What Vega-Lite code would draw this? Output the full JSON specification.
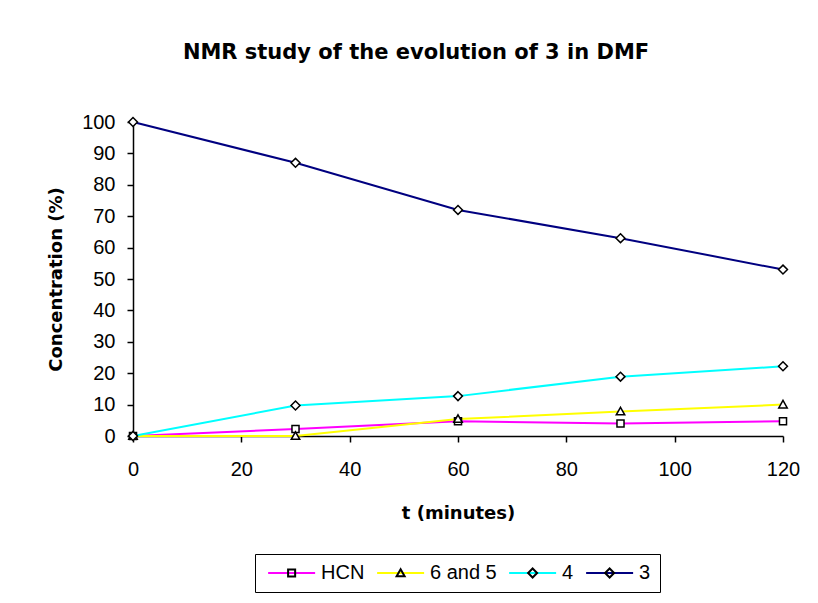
{
  "$schema": "https://vega.github.io/schema/vega-lite/v6.json",
  "width": 650,
  "height": 314,
  "autosize": {"type": "none"},
  "padding": {"left": 133, "top": 122, "right": 35, "bottom": 167},
  "background": "white",
  "config": {"view": {"stroke": null}},
  "title": {
    "text": "NMR study of the evolution of 3 in DMF",
    "font": "DejaVu Sans",
    "fontSize": 21,
    "fontWeight": "bold",
    "color": "black",
    "anchor": "middle",
    "frame": "group",
    "dx": -42,
    "offset": 49
  },
  "data": {
    "values": [
      {"series": "HCN", "t": 0, "value": 0},
      {"series": "HCN", "t": 30, "value": 2.2},
      {"series": "HCN", "t": 60, "value": 4.7},
      {"series": "HCN", "t": 90, "value": 4},
      {"series": "HCN", "t": 120, "value": 4.7},
      {"series": "6 and 5", "t": 0, "value": 0},
      {"series": "6 and 5", "t": 30, "value": 0},
      {"series": "6 and 5", "t": 60, "value": 5.4},
      {"series": "6 and 5", "t": 90, "value": 7.8},
      {"series": "6 and 5", "t": 120, "value": 10},
      {"series": "4", "t": 0, "value": 0},
      {"series": "4", "t": 30, "value": 9.7},
      {"series": "4", "t": 60, "value": 12.7},
      {"series": "4", "t": 90, "value": 18.9},
      {"series": "4", "t": 120, "value": 22.2},
      {"series": "3", "t": 0, "value": 100},
      {"series": "3", "t": 30, "value": 87},
      {"series": "3", "t": 60, "value": 72},
      {"series": "3", "t": 90, "value": 63},
      {"series": "3", "t": 120, "value": 53}
    ]
  },
  "encoding": {
    "x": {
      "field": "t",
      "type": "quantitative",
      "scale": {"domain": [0, 120], "nice": false, "zero": false},
      "axis": {
        "title": "t (minutes)",
        "values": [0, 20, 40, 60, 80, 100, 120],
        "grid": false,
        "domainColor": "black",
        "domainWidth": 1.5,
        "tickColor": "black",
        "tickWidth": 1.5,
        "tickSize": 6,
        "labelFont": "Liberation Sans",
        "labelFontSize": 20,
        "labelColor": "black",
        "labelPadding": 17,
        "labelFlush": false,
        "labelOverlap": false,
        "titleFont": "DejaVu Sans",
        "titleFontSize": 18,
        "titleFontWeight": "bold",
        "titleColor": "black",
        "titlePadding": 25
      }
    },
    "y": {
      "field": "value",
      "type": "quantitative",
      "scale": {"domain": [0, 100], "nice": false},
      "axis": {
        "title": "Concentration (%)",
        "values": [0, 10, 20, 30, 40, 50, 60, 70, 80, 90, 100],
        "grid": false,
        "domainColor": "black",
        "domainWidth": 1.5,
        "tickColor": "black",
        "tickWidth": 1.5,
        "tickSize": 6,
        "labelFont": "Liberation Sans",
        "labelFontSize": 20,
        "labelColor": "black",
        "labelPadding": 12,
        "labelFlush": false,
        "labelOverlap": false,
        "titleFont": "DejaVu Sans",
        "titleFontSize": 18,
        "titleFontWeight": "bold",
        "titleColor": "black",
        "titlePadding": 16
      }
    }
  },
  "resolve": {"scale": {"shape": "independent"}, "legend": {"shape": "independent"}},
  "layer": [
    {
      "mark": {"type": "line", "strokeWidth": 2},
      "encoding": {
        "color": {
          "field": "series",
          "type": "nominal",
          "scale": {
            "domain": ["HCN", "6 and 5", "4", "3"],
            "range": ["#FF00FF", "#FFFF00", "#00FFFF", "#000080"]
          },
          "legend": {
            "title": null,
            "orient": "none",
            "legendX": 122,
            "legendY": 432,
            "direction": "horizontal",
            "symbolType": "M-1,0H7",
            "symbolSize": 138,
            "symbolStrokeWidth": 2,
            "labelFont": "Liberation Sans",
            "labelFontSize": 20,
            "labelColor": "black",
            "labelOffset": 37,
            "labelLimit": 0,
            "columnPadding": 8,
            "padding": 9,
            "strokeColor": "black",
            "fillColor": "white"
          }
        }
      }
    },
    {
      "mark": {
        "type": "point",
        "filled": false,
        "stroke": "black",
        "fill": "white",
        "fillOpacity": 1,
        "strokeWidth": 1.5,
        "size": 2209,
        "opacity": 1
      },
      "encoding": {
        "shape": {
          "field": "series",
          "type": "nominal",
          "scale": {
            "domain": ["HCN", "6 and 5", "4", "3"],
            "range": [
              "M-0.15,-0.15H0.15V0.15H-0.15Z",
              "M0,-0.18L0.18,0.14H-0.18Z",
              "M0,-0.19L0.19,0L0,0.19L-0.19,0Z",
              "M0,-0.19L0.19,0L0,0.19L-0.19,0Z"
            ]
          },
          "legend": null
        }
      }
    },
    {
      "transform": [
        {"filter": "datum.t < 0"},
        {"calculate": "datum.series + '_m'", "as": "marker"}
      ],
      "mark": {"type": "point", "filled": false, "color": "black", "strokeWidth": 1.5, "opacity": 1},
      "encoding": {
        "shape": {
          "field": "marker",
          "type": "nominal",
          "scale": {
            "domain": ["HCN_m", "6 and 5_m", "4_m", "3_m"],
            "range": [
              "M2.4,-0.6H3.6V0.6H2.4Z",
              "M3,-0.65L3.68,0.55H2.32Z",
              "M3,-0.77L3.77,0L3,0.77L2.23,0Z",
              "M3,-0.77L3.77,0L3,0.77L2.23,0Z"
            ]
          },
          "legend": {
            "title": null,
            "orient": "none",
            "legendX": 122,
            "legendY": 432,
            "direction": "horizontal",
            "symbolSize": 138,
            "symbolStrokeWidth": 2,
            "symbolStrokeColor": "black",
            "symbolFillColor": "white",
            "symbolOpacity": 1,
            "labelExpr": "replace(datum.label, '_m', '')",
            "labelFont": "Liberation Sans",
            "labelFontSize": 20,
            "labelColor": "transparent",
            "labelOffset": 37,
            "labelLimit": 0,
            "columnPadding": 8,
            "padding": 9
          }
        }
      }
    }
  ]
}
